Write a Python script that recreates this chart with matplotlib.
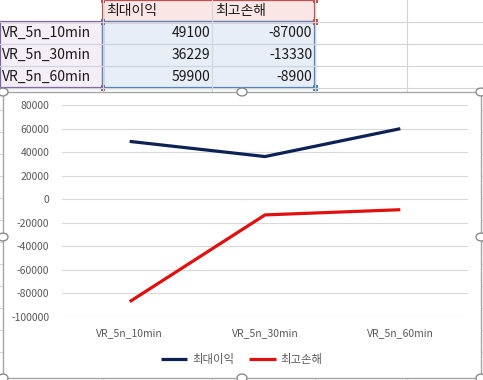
import matplotlib
matplotlib.use("Agg")
import matplotlib.pyplot as plt
from matplotlib.patches import Rectangle, Circle
from matplotlib.lines import Line2D

plt.rcParams['font.family'] = ['Noto Sans CJK KR', 'DejaVu Sans']

# data
categories = ["VR_5n_10min", "VR_5n_30min", "VR_5n_60min"]
series_names = ["최대이익", "최고손해"]
max_profit = [49100, 36229, 59900]
max_loss = [-87000, -13330, -8900]
y_ticks = list(range(-100000, 80001, 20000))

W, H = 483, 380
fig = plt.figure(figsize=(W / 100, H / 100), dpi=100)
fig.patch.set_facecolor("white")


def fx(x):
    return x / W


def fy(y):
    return 1 - y / H


def rect(x0, y0, x1, y1, **kw):
    p = Rectangle((fx(x0), fy(y1)), fx(x1) - fx(x0), fy(y0) - fy(y1),
                  transform=fig.transFigure, **kw)
    fig.patches.append(p)
    return p


def hline(y, x0, x1, **kw):
    fig.lines.append(Line2D([fx(x0), fx(x1)], [fy(y), fy(y)], transform=fig.transFigure, **kw))


def vline(x, y0, y1, **kw):
    fig.lines.append(Line2D([fx(x), fx(x)], [fy(y0), fy(y1)], transform=fig.transFigure, **kw))


# --- spreadsheet grid behind the chart ---
col_x = [103, 212, 315, 407]
row_y = [22, 44, 66, 88, 110, 132, 154, 176, 198, 220, 242, 264, 286, 308, 330, 352, 374]
for y in row_y:
    hline(y, 0, W, color="#d4d4d4", lw=0.8)
for x in col_x:
    vline(x, 0, H, color="#d4d4d4", lw=0.8)

# cell fills
rect(103, 0, 315, 22, facecolor="#fbe6e6", edgecolor="none")
rect(0, 22, 103, 88, facecolor="#f4eef6", edgecolor="none")
rect(103, 22, 315, 88, facecolor="#e8eef8", edgecolor="none")
for y in [44, 66]:
    hline(y, 0, 315, color="#d0d6e0", lw=0.8)
vline(212, 0, 88, color="#d8d8d8", lw=0.8)

# range borders
rect(103, 0, 315, 22, facecolor="none", edgecolor="#c0504d", lw=1.6)
rect(0, 22, 103, 88, facecolor="none", edgecolor="#8064a2", lw=1.6)
rect(103, 22, 315, 88, facecolor="none", edgecolor="#4f81bd", lw=1.6)
for (hx, hy, c) in [(103, 0, "#c0504d"), (315, 0, "#c0504d"), (315, 22, "#c0504d"),
                    (103, 22, "#8064a2"), (103, 88, "#8064a2"), (315, 88, "#4f81bd")]:
    rect(hx - 2.5, hy - 2.5, hx + 2.5, hy + 2.5, facecolor=c, edgecolor="none")

# table text
tfont = 10
fig.text(fx(106), fy(11), series_names[0], fontsize=tfont, va="center", ha="left", color="#1a1a1a")
fig.text(fx(215), fy(11), series_names[1], fontsize=tfont, va="center", ha="left", color="#1a1a1a")
for i, cat in enumerate(categories):
    yc = 33 + 22 * i
    fig.text(fx(2), fy(yc), cat, fontsize=tfont, va="center", ha="left", color="#1a1a1a")
    fig.text(fx(210), fy(yc), str(max_profit[i]), fontsize=tfont, va="center", ha="right", color="#1a1a1a")
    fig.text(fx(312), fy(yc), str(max_loss[i]), fontsize=tfont, va="center", ha="right", color="#1a1a1a")

# --- chart frame ---
rect(3, 92, 481, 378, facecolor="white", edgecolor="#a6a6a6", lw=1.0, zorder=2)

ax = fig.add_axes([fx(62), fy(317), fx(468) - fx(62), fy(105) - fy(317)], zorder=3)
ax.set_facecolor("none")
x = list(range(len(categories)))
ax.plot(x, max_profit, color="#0c2254", lw=2.3, label=series_names[0], solid_capstyle="butt")
ax.plot(x, max_loss, color="#e01010", lw=2.3, label=series_names[1], solid_capstyle="butt")
ax.set_xlim(-0.5, len(categories) - 0.5)
ax.set_ylim(-100000, 80000)
ax.set_yticks(y_ticks)
ax.set_yticklabels([str(v) for v in y_ticks])
ax.set_xticks(x)
ax.set_xticklabels(categories)
ax.grid(axis="y", color="#d9d9d9", lw=0.8)
ax.set_axisbelow(True)
for s in ax.spines.values():
    s.set_visible(False)
ax.tick_params(axis="both", length=0, labelsize=7.5, labelcolor="#595959")
ax.tick_params(axis="y", pad=9)
ax.tick_params(axis="x", pad=8)

fig.legend(loc="center", bbox_to_anchor=(fx(242), fy(359)), ncol=2, frameon=False,
           fontsize=8.2, handlelength=2.3, handletextpad=0.45, columnspacing=1.3,
           labelcolor="#595959")

# selection handles on the chart frame
for (cx, cy) in [(3, 92), (242, 92), (481, 92), (3, 237), (481, 237),
                 (3, 378), (242, 378), (481, 378)]:
    fig.patches.append(Circle((fx(cx), fy(cy)), 5 / W, transform=fig.transFigure,
                              facecolor="white", edgecolor="#8c8c8c", lw=1.0, zorder=5))

fig.savefig("out.png", dpi=100)
